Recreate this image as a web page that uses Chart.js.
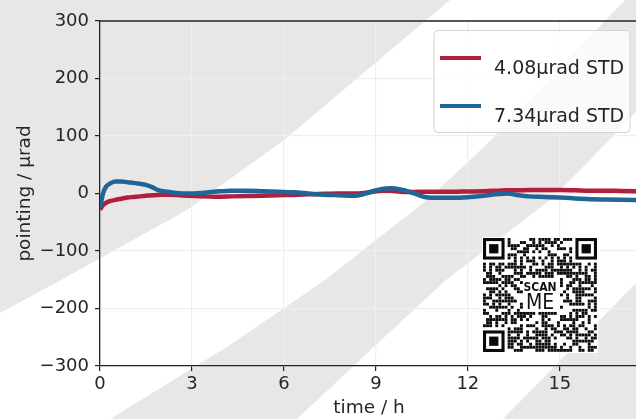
<!DOCTYPE html>
<html>
<head>
<meta charset="utf-8">
<script src="https://cdn.jsdelivr.net/npm/chart.js@4.4.1/dist/chart.umd.min.js"></script>
<style>
  html, body { margin: 0; padding: 0; overflow: hidden; background: #fff; }
  #wrap { width: 650px; height: 419px; }
</style>
</head>
<body>
<div id="wrap"><canvas id="chart" width="650" height="419"></canvas></div>
<script>
// time axis (hours) shared by both runs
var timeHours = [0, 0.1, 0.2, 0.35, 0.5, 0.7, 0.9, 1.1, 1.3, 1.5, 1.7, 1.9, 2.2, 2.5, 2.9,
  3.3, 3.8, 4.3, 4.8, 5.3, 5.8, 6.3, 6.8, 7.3, 7.8, 8.3, 8.6, 8.9, 9.2, 9.5, 9.8,
  10.1, 10.4, 10.7, 11.0, 11.5, 12.0, 12.5, 13.0, 13.3, 13.6, 14.0, 14.5, 15.0,
  15.5, 16.0, 16.5, 17.0, 17.5];

// pointing in urad
var pointingRed = [-28, -20, -16, -13, -11, -9, -7, -6, -5, -4, -3, -2.5, -2, -2.5, -4,
  -5, -5.5, -5, -4.5, -4, -3, -2.5, -1.5, -0.5, 0, 0, 1, 3, 5, 5, 3,
  2.5, 3, 3, 3, 3, 3.5, 4, 5, 5.5, 5.5, 6, 6, 6,
  5.5, 5, 5, 4.5, 4];
var pointingBlue = [-25, 0, 12, 18, 21, 21, 19.5, 18.5, 17, 15, 11, 6, 3, 1, 0,
  1, 3.5, 5, 5, 4, 3, 2, 0, -2, -3, -4, -1, 4, 8, 9, 7,
  3, -3, -7, -7.5, -7.5, -6.5, -4, -1, 0, -2.5, -5, -6, -7,
  -8.5, -10, -10.5, -11, -11.5];

var seriesLabels = ['4.08\u03bcrad STD', '7.34\u03bcrad STD'];
var seriesColors = ['#b01f3c', '#1f6597'];
var xTicks = [0, 3, 6, 9, 12, 15];
var yTicks = [-300, -200, -100, 0, 100, 200, 300];

var textColor = '#262626';
var fontFamily = '"DejaVu Sans", sans-serif';

function toPoints(xs, ys) {
    var pts = [];
    for (var i = 0; i < xs.length; i++) {
        pts.push({x: xs[i], y: ys[i]});
    }
    return pts;
}

// light gray curved stripes behind the figure
var stripesPlugin = {
    id: 'stripes',
    beforeDraw: function(chart) {
        var ctx = chart.ctx;
        var bands = [
            [[-20, -20], [470, -20], [450, 0], [367, 70], [284, 140], [187, 210], [61, 280], [0, 313], [-20, 324]],
            [[80, 440], [110, 419], [230, 345], [325, 280], [427, 200], [470, 160], [491, 140], [625, 0], [645, -20],
             [760, -20], [636, 112], [609, 140], [590, 160], [550, 200], [446, 280], [376, 345], [297, 419], [275, 440]],
            [[480, 440], [503, 419], [636, 283], [700, 220], [800, 220], [800, 440]]
        ];
        ctx.save();
        ctx.fillStyle = '#ffffff';
        ctx.fillRect(0, 0, chart.width, chart.height);
        ctx.fillStyle = '#e8e7e6';
        bands.forEach(function(poly) {
            ctx.beginPath();
            poly.forEach(function(p, i) {
                if (i === 0) ctx.moveTo(p[0], p[1]); else ctx.lineTo(p[0], p[1]);
            });
            ctx.closePath();
            ctx.fill();
        });
        ctx.restore();
    }
};

// top spine, legend box
var frameLegendPlugin = {
    id: 'frameLegend',
    afterDraw: function(chart) {
        var ctx = chart.ctx;
        var area = chart.chartArea;
        ctx.save();
        ctx.strokeStyle = '#222';
        ctx.lineWidth = 1.3;
        ctx.beginPath();
        ctx.moveTo(area.left, area.top);
        ctx.lineTo(area.right, area.top);
        ctx.stroke();

        // legend
        var bx = 434, by = 30.5, bw = 196, bh = 102;
        ctx.fillStyle = 'rgba(255,255,255,0.8)';
        ctx.strokeStyle = '#d4d4d4';
        ctx.lineWidth = 1;
        ctx.beginPath();
        ctx.roundRect(bx, by, bw, bh, 4);
        ctx.fill();
        ctx.stroke();

        ctx.font = '19px ' + fontFamily;
        ctx.textBaseline = 'alphabetic';
        ctx.textAlign = 'left';
        chart.data.datasets.forEach(function(ds, i) {
            var ly = 58 + i * 48;
            ctx.strokeStyle = ds.borderColor;
            ctx.lineWidth = 4;
            ctx.beginPath();
            ctx.moveTo(440, ly);
            ctx.lineTo(481, ly);
            ctx.stroke();
            ctx.fillStyle = textColor;
            ctx.fillText(ds.label, 494, ly + 16);
        });
        ctx.restore();
    }
};

// "scan me" code stamp
var qrPlugin = {
    id: 'qr',
    afterDraw: function(chart) {
        var ctx = chart.ctx;
        var n = 37, x0 = 483, y0 = 238, size = 114, m = size / n;
        ctx.save();
        ctx.fillStyle = '#ffffff';
        ctx.fillRect(x0 - 1, y0 - 1, size + 2, size + 2);
        var dark = '#0a0a0a';
        function finder(r, c) {
            ctx.fillStyle = dark;
            ctx.fillRect(x0 + c * m, y0 + r * m, 7 * m, 7 * m);
            ctx.fillStyle = '#ffffff';
            ctx.fillRect(x0 + (c + 1) * m, y0 + (r + 1) * m, 5 * m, 5 * m);
            ctx.fillStyle = dark;
            ctx.fillRect(x0 + (c + 2) * m, y0 + (r + 2) * m, 3 * m, 3 * m);
        }
        finder(0, 0);
        finder(0, n - 7);
        finder(n - 7, 0);
        ctx.fillStyle = dark;
        for (var r = 0; r < n; r++) {
            for (var c = 0; c < n; c++) {
                if (r < 8 && c < 8) continue;
                if (r < 8 && c >= n - 8) continue;
                if (r >= n - 8 && c < 8) continue;
                if (r >= 13 && r <= 23 && c >= 13 && c <= 24) continue;
                var on;
                if (r === 6) on = (c % 2 === 0);
                else if (c === 6) on = (r % 2 === 0);
                else {
                    var h = Math.imul(r * 131 + 7, 2654435761) ^ Math.imul(c * 197 + 3, 40503);
                    h = Math.imul(h ^ (h >>> 13), 1274126177);
                    on = ((h >>> 0) % 100) < 56;
                }
                if (on) ctx.fillRect(x0 + c * m, y0 + r * m, m - 0.2, m - 0.2);
            }
        }
        ctx.fillStyle = '#111';
        ctx.textAlign = 'center';
        ctx.textBaseline = 'alphabetic';
        ctx.font = 'bold 12px "DejaVu Sans Condensed", "DejaVu Sans", sans-serif';
        ctx.fillText('SCAN', 540, 291);
        ctx.font = '21px "DejaVu Sans Condensed", "DejaVu Sans", sans-serif';
        ctx.fillText('ME', 540, 309);
        ctx.restore();
    }
};

function minusSign(v) {
    return String(v).replace('-', '\u2212');
}

var ctx = document.getElementById('chart').getContext('2d');
var myChart = new Chart(ctx, {
    type: 'line',
    data: {
        datasets: [{
            label: seriesLabels[0],
            data: toPoints(timeHours, pointingRed),
            borderColor: seriesColors[0],
            borderWidth: 4.5,
            pointRadius: 0,
            cubicInterpolationMode: 'monotone',
            order: 1
        }, {
            label: seriesLabels[1],
            data: toPoints(timeHours, pointingBlue),
            borderColor: seriesColors[1],
            borderWidth: 4.5,
            pointRadius: 0,
            cubicInterpolationMode: 'monotone',
            order: 0
        }]
    },
    options: {
        responsive: false,
        animation: false,
        devicePixelRatio: 1,
        layout: { padding: { top: 21, right: 12, bottom: 0, left: 0 } },
        plugins: {
            legend: { display: false },
            tooltip: { enabled: false }
        },
        scales: {
            x: {
                type: 'linear',
                min: 0,
                max: 17.55,
                afterBuildTicks: function(scale) {
                    scale.ticks = xTicks.map(function(v) { return {value: v}; });
                },
                afterFit: function(scale) { scale.height = 53; },
                grid: { color: '#efefef', lineWidth: 1.2, tickLength: 5, tickColor: '#222', tickWidth: 1.2 },
                border: { color: '#222', width: 1.3 },
                ticks: {
                    color: textColor, font: { family: fontFamily, size: 18 }, padding: 3,
                    maxRotation: 0, autoSkip: false,
                    callback: function(v) { return minusSign(v); }
                },
                title: {
                    display: true, text: 'time / h', color: textColor,
                    font: { family: fontFamily, size: 18.5 }, padding: { top: 0, bottom: 0 }
                }
            },
            y: {
                type: 'linear',
                min: -300,
                max: 300,
                afterBuildTicks: function(scale) {
                    scale.ticks = yTicks.map(function(v) { return {value: v}; });
                },
                afterFit: function(scale) { scale.width = 100; },
                grid: { color: '#efefef', lineWidth: 1.2, tickLength: 5, tickColor: '#222', tickWidth: 1.2 },
                border: { color: '#222', width: 1.3 },
                ticks: {
                    color: textColor, font: { family: fontFamily, size: 18 }, padding: 6,
                    callback: function(v) { return minusSign(v); }
                },
                title: {
                    display: true, text: 'pointing / \u03bcrad', color: textColor,
                    font: { family: fontFamily, size: 18.5 }, padding: { top: 14, bottom: 0 }
                }
            }
        }
    },
    plugins: [stripesPlugin, frameLegendPlugin, qrPlugin]
});
</script>
</body>
</html>
